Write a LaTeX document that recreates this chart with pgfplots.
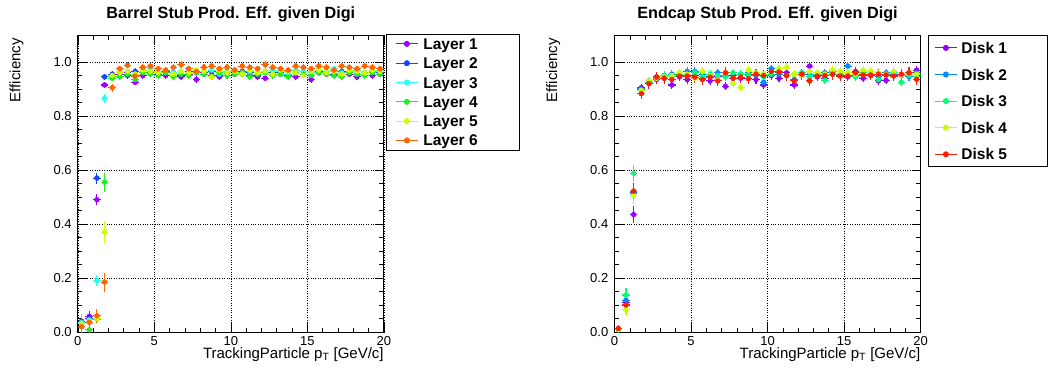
\documentclass[border=0pt]{standalone}
\usepackage{pgfplots}
\pgfplotsset{compat=1.18}
\usepackage{pgfplotstable}
\usepackage{fontspec}
\setmainfont{Liberation Sans}

\definecolor{cL1}{RGB}{153,0,255}
\definecolor{cL2}{RGB}{20,70,255}
\definecolor{cL3}{RGB}{40,255,240}
\definecolor{cL4}{RGB}{30,240,30}
\definecolor{cL5}{RGB}{204,255,0}
\definecolor{cL6}{RGB}{255,100,0}
\definecolor{cD1}{RGB}{150,0,255}
\definecolor{cD2}{RGB}{0,140,255}
\definecolor{cD3}{RGB}{0,255,120}
\definecolor{cD4}{RGB}{200,255,0}
\definecolor{cD5}{RGB}{255,30,0}

\pgfplotstableread{
x     ex   l1    e1    l2    e2    l3    e3    l4    e4    l5    e5    l6    e6
0.25  0.25 0.040 0.020 0.030 0.020 0.035 0.030 0.020 0.025 0.030 0.020 0.020 0.020
0.75  0.25 0.058 0.018 0.050 0.018 0.045 0.020 0.008 0.008 0.040 0.020 0.036 0.025
1.25  0.25 0.490 0.020 0.570 0.020 0.190 0.020 0.048 0.020 0.050 0.020 0.060 0.025
1.75  0.25 0.915 0.012 0.945 0.010 0.865 0.015 0.555 0.035 0.370 0.040 0.185 0.035
2.25  0.25 0.950 0.012 0.955 0.012 0.945 0.012 0.940 0.012 0.950 0.012 0.905 0.015
2.75  0.25 0.955 0.012 0.960 0.012 0.960 0.012 0.945 0.012 0.960 0.012 0.975 0.012
3.25  0.25 0.960 0.012 0.950 0.012 0.965 0.012 0.955 0.012 0.965 0.012 0.988 0.012
3.75  0.25 0.925 0.012 0.965 0.012 0.955 0.012 0.935 0.012 0.955 0.012 0.948 0.012
4.25  0.25 0.950 0.012 0.970 0.012 0.970 0.012 0.960 0.012 0.970 0.012 0.980 0.012
4.75  0.25 0.965 0.012 0.960 0.012 0.975 0.012 0.955 0.012 0.965 0.012 0.985 0.012
5.25  0.25 0.955 0.012 0.955 0.012 0.965 0.012 0.950 0.012 0.960 0.012 0.975 0.012
5.75  0.25 0.950 0.012 0.965 0.012 0.970 0.012 0.960 0.012 0.970 0.012 0.970 0.012
6.25  0.25 0.960 0.012 0.960 0.012 0.960 0.012 0.945 0.012 0.955 0.012 0.980 0.012
6.75  0.25 0.945 0.012 0.950 0.012 0.965 0.012 0.955 0.012 0.965 0.012 0.990 0.012
7.25  0.25 0.955 0.012 0.965 0.012 0.975 0.012 0.950 0.012 0.960 0.012 0.975 0.012
7.75  0.25 0.935 0.012 0.960 0.012 0.960 0.012 0.960 0.012 0.970 0.012 0.965 0.012
8.25  0.25 0.960 0.012 0.955 0.012 0.965 0.012 0.955 0.012 0.965 0.012 0.980 0.012
8.75  0.25 0.950 0.012 0.965 0.012 0.970 0.012 0.945 0.012 0.945 0.012 0.985 0.012
9.25  0.25 0.945 0.012 0.950 0.012 0.955 0.012 0.960 0.012 0.970 0.012 0.975 0.012
9.75  0.25 0.960 0.012 0.960 0.012 0.965 0.012 0.950 0.012 0.960 0.012 0.980 0.012
10.25 0.25 0.955 0.012 0.965 0.012 0.970 0.012 0.955 0.012 0.965 0.012 0.970 0.012
10.75 0.25 0.965 0.012 0.955 0.012 0.960 0.012 0.960 0.012 0.955 0.012 0.985 0.012
11.25 0.25 0.950 0.012 0.960 0.012 0.965 0.012 0.945 0.012 0.970 0.012 0.980 0.012
11.75 0.25 0.945 0.012 0.950 0.012 0.975 0.012 0.955 0.012 0.960 0.012 0.975 0.012
12.25 0.25 0.940 0.012 0.965 0.012 0.960 0.012 0.960 0.012 0.965 0.012 0.990 0.012
12.75 0.25 0.955 0.012 0.960 0.012 0.970 0.012 0.950 0.012 0.955 0.012 0.980 0.012
13.25 0.25 0.960 0.012 0.955 0.012 0.965 0.012 0.955 0.012 0.970 0.012 0.975 0.012
13.75 0.25 0.950 0.012 0.965 0.012 0.955 0.012 0.945 0.012 0.965 0.012 0.970 0.012
14.25 0.25 0.945 0.012 0.960 0.012 0.970 0.012 0.960 0.012 0.960 0.012 0.985 0.012
14.75 0.25 0.955 0.012 0.955 0.012 0.965 0.012 0.955 0.012 0.950 0.012 0.980 0.012
15.25 0.25 0.935 0.012 0.950 0.012 0.960 0.012 0.950 0.012 0.965 0.012 0.975 0.012
15.75 0.25 0.960 0.012 0.965 0.012 0.970 0.012 0.960 0.012 0.970 0.012 0.985 0.012
16.25 0.25 0.955 0.012 0.960 0.012 0.965 0.012 0.955 0.012 0.960 0.012 0.980 0.012
16.75 0.25 0.950 0.012 0.955 0.012 0.975 0.012 0.950 0.012 0.965 0.012 0.970 0.012
17.25 0.25 0.960 0.012 0.965 0.012 0.960 0.012 0.945 0.012 0.955 0.012 0.985 0.012
17.75 0.25 0.955 0.012 0.960 0.012 0.965 0.012 0.960 0.012 0.970 0.012 0.980 0.012
18.25 0.25 0.945 0.012 0.955 0.012 0.970 0.012 0.955 0.012 0.965 0.012 0.975 0.012
18.75 0.25 0.960 0.012 0.960 0.012 0.960 0.012 0.950 0.012 0.960 0.012 0.985 0.012
19.25 0.25 0.950 0.012 0.965 0.012 0.965 0.012 0.960 0.012 0.970 0.012 0.980 0.012
19.75 0.25 0.955 0.012 0.960 0.012 0.970 0.012 0.955 0.012 0.965 0.012 0.975 0.012
}\dataL

\pgfplotstableread{
x     ex   d1    e1    d2    e2    d3    e3    d4    e4    d5    e5
0.25  0.25 0.010 0.010 0.012 0.010 0.008 0.010 0.010 0.010 0.013 0.012
0.75  0.25 0.110 0.020 0.118 0.020 0.137 0.025 0.082 0.020 0.100 0.020
1.25  0.25 0.435 0.030 0.515 0.030 0.588 0.030 0.505 0.030 0.522 0.030
1.75  0.25 0.905 0.015 0.900 0.015 0.895 0.015 0.895 0.015 0.883 0.020
2.25  0.25 0.925 0.015 0.930 0.015 0.925 0.015 0.930 0.015 0.920 0.020
2.75  0.25 0.935 0.015 0.945 0.015 0.940 0.015 0.940 0.015 0.944 0.020
3.25  0.25 0.940 0.015 0.950 0.015 0.950 0.015 0.945 0.015 0.940 0.020
3.75  0.25 0.915 0.015 0.955 0.015 0.945 0.015 0.950 0.015 0.935 0.020
4.25  0.25 0.945 0.015 0.950 0.015 0.955 0.015 0.960 0.015 0.948 0.020
4.75  0.25 0.935 0.015 0.965 0.015 0.950 0.015 0.955 0.015 0.948 0.020
5.25  0.25 0.950 0.015 0.965 0.015 0.960 0.015 0.940 0.015 0.944 0.020
5.75  0.25 0.940 0.015 0.955 0.015 0.945 0.015 0.965 0.015 0.935 0.020
6.25  0.25 0.930 0.015 0.945 0.015 0.955 0.015 0.950 0.015 0.944 0.020
6.75  0.25 0.945 0.015 0.960 0.015 0.950 0.015 0.935 0.015 0.930 0.020
7.25  0.25 0.910 0.015 0.950 0.015 0.945 0.015 0.960 0.015 0.960 0.020
7.75  0.25 0.950 0.015 0.940 0.015 0.960 0.015 0.920 0.015 0.940 0.020
8.25  0.25 0.940 0.015 0.955 0.015 0.955 0.015 0.905 0.015 0.944 0.020
8.75  0.25 0.955 0.015 0.960 0.015 0.950 0.015 0.970 0.015 0.938 0.020
9.25  0.25 0.935 0.015 0.950 0.015 0.960 0.015 0.960 0.015 0.955 0.020
9.75  0.25 0.915 0.015 0.925 0.015 0.945 0.015 0.955 0.015 0.950 0.020
10.25 0.25 0.950 0.015 0.975 0.015 0.955 0.015 0.965 0.015 0.965 0.020
10.75 0.25 0.940 0.015 0.955 0.015 0.965 0.015 0.975 0.015 0.963 0.020
11.25 0.25 0.960 0.015 0.950 0.015 0.950 0.015 0.980 0.015 0.950 0.020
11.75 0.25 0.915 0.015 0.935 0.015 0.955 0.015 0.955 0.015 0.930 0.020
12.25 0.25 0.950 0.015 0.960 0.015 0.960 0.015 0.950 0.015 0.955 0.020
12.75 0.25 0.985 0.015 0.955 0.015 0.945 0.015 0.965 0.015 0.930 0.020
13.25 0.25 0.945 0.015 0.950 0.015 0.955 0.015 0.960 0.015 0.948 0.020
13.75 0.25 0.940 0.015 0.960 0.015 0.933 0.015 0.955 0.015 0.950 0.020
14.25 0.25 0.955 0.015 0.965 0.015 0.960 0.015 0.970 0.015 0.955 0.020
14.75 0.25 0.950 0.015 0.955 0.015 0.955 0.015 0.965 0.015 0.948 0.020
15.25 0.25 0.945 0.015 0.985 0.015 0.950 0.015 0.960 0.015 0.948 0.020
15.75 0.25 0.965 0.015 0.950 0.015 0.945 0.015 0.955 0.015 0.960 0.020
16.25 0.25 0.940 0.015 0.960 0.015 0.960 0.015 0.970 0.015 0.952 0.020
16.75 0.25 0.950 0.015 0.955 0.015 0.955 0.015 0.965 0.015 0.952 0.020
17.25 0.25 0.930 0.015 0.945 0.015 0.935 0.015 0.960 0.015 0.955 0.020
17.75 0.25 0.932 0.015 0.960 0.015 0.950 0.015 0.955 0.015 0.952 0.020
18.25 0.25 0.955 0.015 0.955 0.015 0.960 0.015 0.965 0.015 0.948 0.020
18.75 0.25 0.950 0.015 0.950 0.015 0.925 0.015 0.950 0.015 0.955 0.020
19.25 0.25 0.960 0.015 0.945 0.015 0.950 0.015 0.960 0.015 0.960 0.020
19.75 0.25 0.970 0.015 0.960 0.015 0.945 0.015 0.955 0.015 0.936 0.020
}\dataR

\pgfplotsset{
  myax/.style={
    scale only axis, width=306pt, height=297pt, anchor=south west,
    xmin=0, xmax=20, ymin=0, ymax=1.1,
    xtick={0,5,10,15,20}, ytick={0,0.2,0.4,0.6,0.8,1.0},
    minor x tick num=4, minor y tick num=3,
    tick align=inside, tick pos=both,
    major tick length=9pt, minor tick length=4.5pt,
    every tick/.style={black, line width=0.5pt},
    axis line style={line width=0.9pt},
    grid=major, major grid style={dotted, black, line width=0.6pt},
    /pgf/number format/assume math mode=true,
    ticklabel style={font=\fontsize{13}{13}\selectfont, inner sep=0pt},
    yticklabel style={/pgf/number format/.cd, fixed, fixed zerofill, precision=1, /tikz/.cd, xshift=-6pt},
    xticklabel style={yshift=-4pt},
    title style={at={(0.5,1)}, anchor=base, yshift=11pt, font=\fontsize{16.2}{16.2}\selectfont\bfseries},
    xlabel style={at={(rel axis cs:1,0)}, anchor=north east, yshift=-15pt, inner sep=0pt, font=\fontsize{15}{15}\selectfont},
    ylabel style={at={(rel axis cs:-0.177,0.99)}, anchor=south east, inner sep=0pt, font=\fontsize{15}{15}\selectfont},
    xlabel={TrackingParticle p\textsubscript{T} [GeV/c]},
    ylabel={Efficiency},
    legend image code/.code={\draw[mark repeat=2,mark phase=2,##1] plot coordinates {(0pt,0pt) (11pt,0pt) (22pt,0pt)};},
    legend cell align=left,
  },
  pts/.style={forget plot, only marks, mark=*, color=#1, mark size=2.5pt,
    error bars/.cd, x dir=both, x explicit, y dir=both, y explicit,
    error bar style={line width=1.1pt, solid, color=#1}, error mark=none},
  leg/.style={color=#1, mark=*, mark size=2.5pt, line width=1pt, solid},
}

\begin{document}
\begin{tikzpicture}
\path[use as bounding box] (0pt,0pt) rectangle (1048pt,376pt);

\begin{axis}[myax, at={(77.8pt,44pt)},
  title={Barrel Stub Prod. Eff. given Digi},
  legend style={at={(rel axis cs:1,1)}, anchor=north west, xshift=2.2pt, yshift=1pt,
    draw=black, line width=0.8pt, fill=white, inner xsep=9pt, inner ysep=4pt,
    row sep=8.3pt, column sep=5pt,
    nodes={inner sep=0pt, text height=11pt, text depth=0pt},
    font=\fontsize{15.5}{15.5}\selectfont\bfseries},
]
\addlegendimage{leg=cL1}\addlegendentry{\makebox[87pt][l]{Layer 1}}
\addlegendimage{leg=cL2}\addlegendentry{\makebox[87pt][l]{Layer 2}}
\addlegendimage{leg=cL3}\addlegendentry{\makebox[87pt][l]{Layer 3}}
\addlegendimage{leg=cL4}\addlegendentry{\makebox[87pt][l]{Layer 4}}
\addlegendimage{leg=cL5}\addlegendentry{\makebox[87pt][l]{Layer 5}}
\addlegendimage{leg=cL6}\addlegendentry{\makebox[87pt][l]{Layer 6}}
\addplot[pts=cL1] table[x=x, y=l1, x error=ex, y error=e1] {\dataL};
\addplot[pts=cL2] table[x=x, y=l2, x error=ex, y error=e2] {\dataL};
\addplot[pts=cL3] table[x=x, y=l3, x error=ex, y error=e3] {\dataL};
\addplot[pts=cL4] table[x=x, y=l4, x error=ex, y error=e4] {\dataL};
\addplot[pts=cL5] table[x=x, y=l5, x error=ex, y error=e5] {\dataL};
\addplot[pts=cL6] table[x=x, y=l6, x error=ex, y error=e6] {\dataL};
\end{axis}

\begin{axis}[myax, at={(614.5pt,44pt)},
  title={Endcap Stub Prod. Eff. given Digi},
  legend style={at={(rel axis cs:1,1)}, anchor=north west, xshift=7.5pt, yshift=0pt,
    draw=black, line width=0.8pt, fill=white, inner xsep=6pt, inner ysep=7pt,
    row sep=15.6pt, column sep=4pt,
    nodes={inner sep=0pt, text height=11pt, text depth=0pt},
    font=\fontsize{15.5}{15.5}\selectfont\bfseries},
]
\addlegendimage{leg=cD1}\addlegendentry{\makebox[80pt][l]{Disk 1}}
\addlegendimage{leg=cD2}\addlegendentry{\makebox[80pt][l]{Disk 2}}
\addlegendimage{leg=cD3}\addlegendentry{\makebox[80pt][l]{Disk 3}}
\addlegendimage{leg=cD4}\addlegendentry{\makebox[80pt][l]{Disk 4}}
\addlegendimage{leg=cD5}\addlegendentry{\makebox[80pt][l]{Disk 5}}
\addplot[pts=cD1] table[x=x, y=d1, x error=ex, y error=e1] {\dataR};
\addplot[pts=cD2] table[x=x, y=d2, x error=ex, y error=e2] {\dataR};
\addplot[pts=cD3] table[x=x, y=d3, x error=ex, y error=e3] {\dataR};
\addplot[pts=cD4] table[x=x, y=d4, x error=ex, y error=e4] {\dataR};
\addplot[pts=cD5] table[x=x, y=d5, x error=ex, y error=e5] {\dataR};
\end{axis}
\end{tikzpicture}
\end{document}
